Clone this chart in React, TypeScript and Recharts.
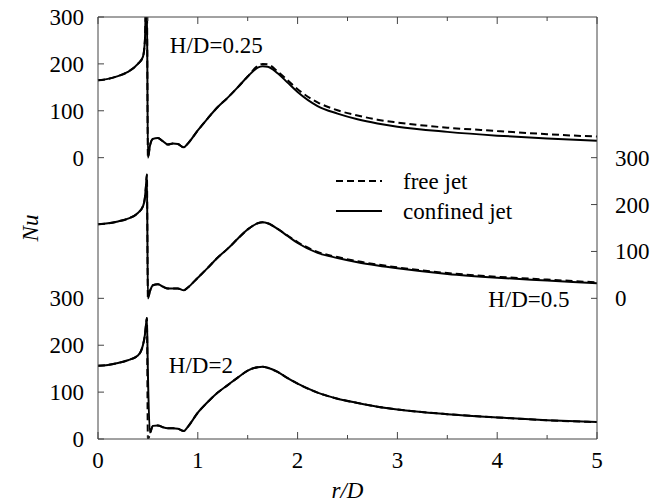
import React from "react";
import { LineChart, Line, XAxis, YAxis, Legend, ReferenceDot } from "recharts";

// radial position r/D
const r = [
  0, 0.1, 0.2, 0.3, 0.4, 0.45, 0.47, 0.48, 0.49, 0.5,
  0.52, 0.55, 0.6, 0.65, 0.7, 0.75, 0.8, 0.86, 0.9, 1.0,
  1.1, 1.2, 1.3, 1.4, 1.5, 1.6, 1.65, 1.7, 1.8, 1.9,
  2.0, 2.2, 2.4, 2.6, 2.8, 3.0, 3.5, 4.0, 4.5, 5.0,
];

// Nu, H/D = 0.25
const confined025 = [
  165, 168, 174, 183, 200, 215, 250, 320, 330, 0,
  25, 40, 42, 35, 28, 30, 29, 22, 30, 58,
  84, 108, 128, 150, 173, 192, 195, 194, 180, 160,
  140, 110, 94, 82, 73, 66, 55, 47, 41, 36,
];
const free025 = [
  165, 168, 174, 183, 200, 215, 250, 320, 330, 0,
  25, 40, 42, 35, 28, 30, 29, 22, 30, 58,
  84, 108, 128, 150, 173, 196, 200, 199, 184, 165,
  146, 118, 101, 90, 81, 75, 64, 57, 50, 45,
];

// Nu, H/D = 0.5
const confined05 = [
  158, 160, 164, 170, 182, 196, 215, 238, 264, 0,
  15, 28, 30, 25, 21, 21, 21, 17, 23, 44,
  65, 87, 106, 127, 147, 160, 162, 160, 148, 133,
  118, 97, 86, 77, 70, 64, 52, 44, 38, 32,
];
const free05 = [
  158, 160, 164, 170, 182, 196, 215, 238, 264, 0,
  15, 28, 30, 25, 21, 21, 21, 17, 23, 44,
  65, 87, 106, 127, 147, 160, 162, 160, 148, 134,
  120, 99, 88, 79, 72, 66, 54, 46, 40, 34,
];

// Nu, H/D = 2
const confined2 = [
  156, 158, 162, 168, 178, 200, 222, 242, 258, 140,
  14, 28, 29, 25, 23, 23, 22, 17, 26, 56,
  79, 99, 115, 131, 146, 153, 154, 152, 143, 130,
  118, 99, 86, 77, 69, 63, 53, 46, 40, 36,
];
const free2 = [
  156, 158, 162, 168, 178, 200, 222, 242, 258, 0,
  10, 28, 29, 25, 23, 23, 22, 17, 26, 56,
  79, 99, 115, 131, 146, 153, 154, 152, 143, 130,
  118, 99, 86, 77, 69, 63, 53, 46, 40, 36,
];

const nuTicks = [0, 100, 200, 300];
const rTicks = [0, 0.5, 1, 1.5, 2, 2.5, 3, 3.5, 4, 4.5, 5];
const seriesNames = ["free jet", "confined jet"];

// each panel is stacked 300 units above the one below it
const OFFSET_025 = 600;
const OFFSET_05 = 300;
const OFFSET_2 = 0;

const rows = r.map((x, i) => ({
  r: x,
  c025: confined025[i] + OFFSET_025,
  f025: free025[i] + OFFSET_025,
  c05: confined05[i] + OFFSET_05,
  f05: free05[i] + OFFSET_05,
  c2: confined2[i] + OFFSET_2,
  f2: free2[i] + OFFSET_2,
}));

const leftTicks = [...nuTicks.map((v) => v + OFFSET_2), ...nuTicks.map((v) => v + OFFSET_025)];
const rightTicks = nuTicks.map((v) => v + OFFSET_05);

const FONT = "Liberation Serif";
const FS = 23;
const AXIS = "#444";
const DASH = "7 4";
const MARGIN_Y = 14;
const MARGIN_X = 13;

const txt = { fontFamily: FONT, fontSize: FS, fill: "#000" };

const LeftTick = ({ x, y, payload }: any) => {
  const ax = x + MARGIN_Y;
  const v = payload.value >= OFFSET_025 ? payload.value - OFFSET_025 : payload.value;
  return (
    <g>
      <line x1={ax} x2={ax + 6} y1={y} y2={y} stroke={AXIS} />
      <text x={x} y={y} dy="0.35em" textAnchor="end" {...txt}>{v}</text>
    </g>
  );
};

const RightTick = ({ x, y, payload }: any) => {
  const ax = x - MARGIN_Y - 2;
  return (
    <g>
      <line x1={ax} x2={ax - 6} y1={y} y2={y} stroke={AXIS} />
      <text x={x + 2} y={y} dy="0.35em" textAnchor="start" {...txt}>{payload.value - OFFSET_05}</text>
    </g>
  );
};

const BottomTick = ({ x, y, payload }: any) => {
  const ay = y - MARGIN_X;
  const major = Number.isInteger(payload.value);
  return (
    <g>
      <line x1={x} x2={x} y1={ay} y2={ay - (major ? 7 : 4)} stroke={AXIS} />
      {major && (
        <text x={x} y={y} dy="0.71em" textAnchor="middle" {...txt}>{payload.value}</text>
      )}
    </g>
  );
};

const TopTick = ({ x, y, payload }: any) => {
  const ay = y + 2;
  const major = Number.isInteger(payload.value);
  return <line x1={x} x2={x} y1={ay} y2={ay + (major ? 7 : 4)} stroke={AXIS} />;
};

const LegendBox = ({ payload }: any) => {
  const items = (payload || [])
    .filter((e: any) => seriesNames.includes(e.value))
    .sort((a: any, b: any) => seriesNames.indexOf(a.value) - seriesNames.indexOf(b.value));
  return (
    <svg width={220} height={60}>
      {items.map((e: any, i: number) => (
        <g key={e.value} transform={`translate(0, ${15 + i * 30})`}>
          <line x1={6} x2={52} y1={0} y2={0} stroke="#000" strokeWidth={2}
            strokeDasharray={e.value === "free jet" ? DASH : undefined} />
          <text x={73} y={0} dy="0.33em" {...txt}>{e.value}</text>
        </g>
      ))}
    </svg>
  );
};

const panelLabel = (text: string) => ({ viewBox }: any) => (
  <text x={viewBox.x} y={viewBox.y} {...txt}>{text}</text>
);

export default function App() {
  return (
    <div style={{ width: 661, height: 502 }}>
      <style>{"body{margin:0}"}</style>
      <LineChart width={661} height={502} data={rows} margin={{ top: 0, right: 4, bottom: 3, left: 8 }}>
        <XAxis
          dataKey="r" type="number" domain={[0, 5]} ticks={rTicks}
          height={60} stroke={AXIS} tickSize={0} tickMargin={MARGIN_X} tickLine={false}
          tick={<BottomTick />}
          label={{
            content: ({ viewBox }: any) => (
              <text x={viewBox.x + viewBox.width / 2} y={viewBox.y + 59} textAnchor="middle"
                fontStyle="italic" {...txt}>r/D</text>
            ),
          }}
        />
        <XAxis
          xAxisId="top" orientation="top" dataKey="r" type="number" domain={[0, 5]} ticks={rTicks}
          height={17} stroke={AXIS} tickSize={0} tickMargin={2} tickLine={false}
          tick={<TopTick />}
        />
        <YAxis
          yAxisId="left" type="number" domain={[0, 900]} ticks={leftTicks} allowDataOverflow
          width={90} stroke={AXIS} tickSize={0} tickMargin={MARGIN_Y} tickLine={false}
          tick={<LeftTick />}
          label={{
            content: ({ viewBox }: any) => (
              <text x={viewBox.x + 22} y={viewBox.y + viewBox.height / 2} textAnchor="middle"
                dy="0.35em" fontStyle="italic" {...txt}
                transform={`rotate(-90 ${viewBox.x + 22} ${viewBox.y + viewBox.height / 2})`}>Nu</text>
            ),
          }}
        />
        <YAxis
          yAxisId="right" orientation="right" type="number" domain={[0, 900]} ticks={rightTicks}
          width={60} stroke={AXIS} tickSize={0} tickMargin={MARGIN_Y + 2} tickLine={false}
          tick={<RightTick />}
        />

        <Line xAxisId="top" yAxisId="left" dataKey="f025" name="free jet" type="monotone"
          stroke="#000" strokeWidth={2} strokeDasharray={DASH} dot={false} isAnimationActive={false} />
        <Line xAxisId="top" yAxisId="left" dataKey="c025" name="confined jet" type="monotone"
          stroke="#000" strokeWidth={2} dot={false} isAnimationActive={false} />
        <Line yAxisId="right" dataKey="f05" legendType="none" type="monotone"
          stroke="#000" strokeWidth={2} strokeDasharray={DASH} dot={false} isAnimationActive={false} />
        <Line yAxisId="right" dataKey="c05" legendType="none" type="monotone"
          stroke="#000" strokeWidth={2} dot={false} isAnimationActive={false} />
        <Line yAxisId="left" dataKey="f2" legendType="none" type="monotone"
          stroke="#000" strokeWidth={2} strokeDasharray={DASH} dot={false} isAnimationActive={false} />
        <Line yAxisId="left" dataKey="c2" legendType="none" type="monotone"
          stroke="#000" strokeWidth={2} dot={false} isAnimationActive={false} />

        <ReferenceDot yAxisId="left" x={0.73} y={821} r={1} fill="none" stroke="none"
          label={{ content: panelLabel("H/D=0.25") }} />
        <ReferenceDot yAxisId="left" x={3.92} y={279} r={1} fill="none" stroke="none"
          label={{ content: panelLabel("H/D=0.5") }} />
        <ReferenceDot yAxisId="left" x={0.72} y={138} r={1} fill="none" stroke="none"
          label={{ content: panelLabel("H/D=2") }} />

        <Legend
          layout="vertical" align="center" verticalAlign="middle"
          content={<LegendBox />}
          wrapperStyle={{ position: "absolute", left: 330, top: 166, width: 220 }}
        />
      </LineChart>
    </div>
  );
}
